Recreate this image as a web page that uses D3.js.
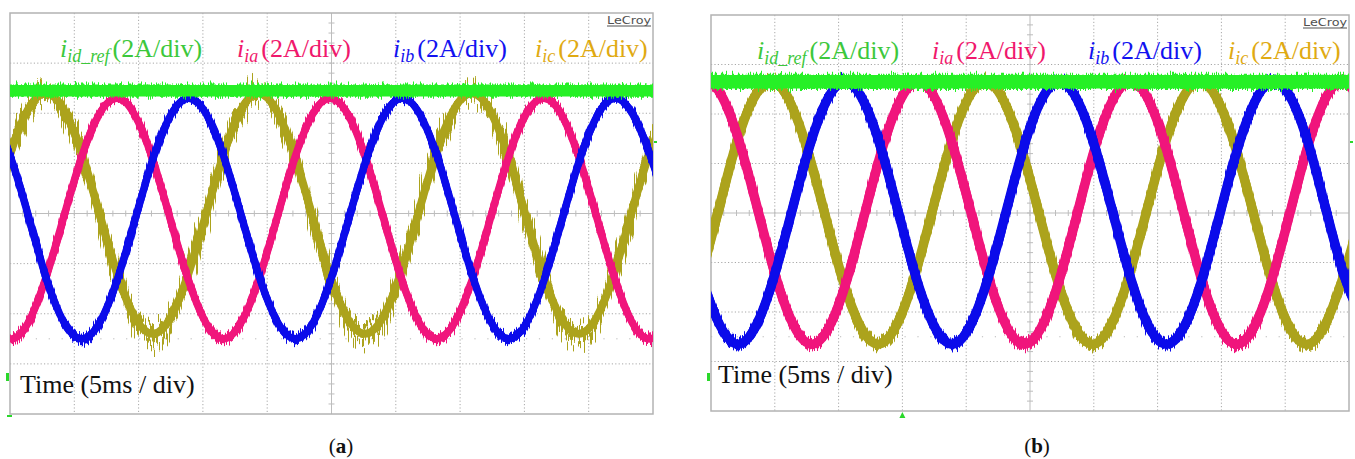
<!DOCTYPE html>
<html>
<head>
<meta charset="utf-8">
<script src="https://cdn.jsdelivr.net/npm/d3@7"></script>
<style>
  body { margin: 0; background: #fff; }
  svg { display: block; }
</style>
</head>
<body>
<svg id="chart" width="1355" height="459"></svg>
<script>
// Scope settings: 10 horizontal divisions of 5 ms, 8 vertical divisions of 2 A
const timeDomain = [0, 50];      // ms
const currentDomain = [-8, 8];   // A
const timeDivs = [5, 10, 15, 20, 25, 30, 35, 40, 45];
const currentDivs = [-6, -4, -2, 0, 2, 4, 6];

// (a) phase currents, [time ms, current A]
const iaA = [[-2.77,-2.6],[0,-5.0],[2.77,-2.6],[5.53,2.2],[8.3,4.6],[11.07,2.2],[13.83,-2.6],[16.6,-5.0],[19.37,-2.6],[22.13,2.2],[24.9,4.6],[27.67,2.2],[30.43,-2.6],[33.2,-5.0],[35.97,-2.6],[38.73,2.2],[41.5,4.6],[44.27,2.2],[47.03,-2.6],[49.8,-5.0],[52.57,-2.6]];
const ibA = [[-2.7,4.6],[0.07,2.2],[2.83,-2.6],[5.6,-5.0],[8.37,-2.6],[11.13,2.2],[13.9,4.6],[16.67,2.2],[19.43,-2.6],[22.2,-5.0],[24.97,-2.6],[27.73,2.2],[30.5,4.6],[33.27,2.2],[36.03,-2.6],[38.8,-5.0],[41.57,-2.6],[44.33,2.2],[47.1,4.6],[49.87,2.2],[52.63,-2.6]];
const icA = [[-5.5,-4.8],[-2.73,-2.4],[0.03,2.4],[2.8,4.8],[5.57,2.4],[8.33,-2.4],[11.1,-4.8],[13.87,-2.4],[16.63,2.4],[19.3,4.8],[22.07,2.4],[24.83,-2.4],[27.6,-4.8],[30.37,-2.4],[33.13,2.4],[35.9,4.8],[38.67,2.4],[41.43,-2.4],[44.2,-4.8],[46.97,-2.4],[49.73,2.4],[52.5,4.8]];
const idRefA = 4.9;

// (b) phase currents, [time ms, current A]
const iaB = [[-3.2,2.65],[-0.43,5.3],[2.35,2.65],[5.12,-2.65],[7.9,-5.3],[10.68,-2.65],[13.45,2.65],[16.23,5.3],[19.0,2.65],[21.78,-2.65],[24.55,-5.3],[27.33,-2.65],[30.1,2.65],[32.88,5.3],[35.65,2.65],[38.43,-2.65],[41.2,-5.3],[43.98,-2.65],[46.75,2.65],[49.53,5.3],[52.3,2.65]];
const ibB = [[-3.5,2.65],[-0.7,-2.65],[2.1,-5.3],[4.9,-2.65],[7.7,2.65],[10.5,5.3],[13.3,2.65],[16.1,-2.65],[18.9,-5.3],[21.7,-2.65],[24.5,2.65],[27.3,5.3],[30.1,2.65],[32.9,-2.65],[35.7,-5.3],[38.5,-2.65],[41.3,2.65],[44.1,5.3],[46.9,2.65],[49.7,-2.65],[52.5,-5.3]];
const icB = [[-3.7,-5.3],[-0.9,-2.65],[1.9,2.65],[4.7,5.3],[7.5,2.65],[10.3,-2.65],[13.1,-5.3],[15.9,-2.65],[18.7,2.65],[21.5,5.3],[24.3,2.65],[27.1,-2.65],[29.9,-5.3],[32.7,-2.65],[35.5,2.65],[38.3,5.3],[41.1,2.65],[43.9,-2.65],[46.7,-5.3],[49.5,-2.65],[52.3,2.65]];
const idRefB = 5.3;

// Legend text
const legendSubs = ["id_ref", "ia", "ib", "ic"];
const legendUnit = "(2A/div)";
const timeLabel = "Time (5ms / div)";
const captions = ["a", "b"];
const brand = "LeCroy";

// Colours
const traceColor = { ref: "#26f026", ia: "#f0157c", ib: "#0b0bea", ic: "#aca31c" };
const textColor = ["#3cc83c", "#f0186c", "#1212f0", "#e0aa12"];

const svg = d3.select("#chart");
const defs = svg.append("defs");

// Oscilloscope noise: vertical-only jitter driven by a high x-frequency turbulence
function jitterFilter(id, scale, seed, fx) {
  const f = defs.append("filter").attr("id", id)
    .attr("filterUnits", "userSpaceOnUse")
    .attr("x", 0).attr("y", 0).attr("width", 1355).attr("height", 459)
    .attr("color-interpolation-filters", "sRGB");
  f.append("feTurbulence").attr("type", "fractalNoise")
    .attr("baseFrequency", `${fx} 0.01`).attr("numOctaves", 2).attr("seed", seed).attr("result", "n");
  f.append("feColorMatrix").attr("in", "n").attr("type", "matrix")
    .attr("values", "0 0 0 0 0.5  0 1.6 0 0 -0.3  0 0 1 0 0  0 0 0 0 1").attr("result", "m");
  f.append("feDisplacementMap").attr("in", "SourceGraphic").attr("in2", "m")
    .attr("scale", scale).attr("xChannelSelector", "R").attr("yChannelSelector", "G");
}
jitterFilter("jitS1", 12, 3, 1.3);
jitterFilter("jitS2", 12, 11, 1.1);
jitterFilter("jitS3", 10, 17, 1.5);
jitterFilter("jitRef", 10, 5, 1.4);
jitterFilter("jitRef2", 10, 23, 1.2);
jitterFilter("jitBig", 50, 7, 1.0);
jitterFilter("jitBig2", 36, 29, 1.3);

const panels = [
  { key: "a", left: 10, right: 653, top: 13, bottom: 414,
    ia: iaA, ib: ibA, ic: icA, ref: idRefA,
    legendX: [60, 237, 393, 535], legendY: 57,
    timeX: 20, timeY: 393, logoX: 607, logoY: 24, captionX: 341,
    width: { ia: 7.5, ib: 7.5, ic: 8, ref: 11.5 },
    jit: { ia: ["jitS1", "jitS3"], ib: ["jitS2", "jitS3"], ic: ["jitBig", "jitBig2"], ref: ["jitRef", "jitRef2"] } },
  { key: "b", left: 711, right: 1349, top: 15, bottom: 411,
    ia: iaB, ib: ibB, ic: icB, ref: idRefB,
    legendX: [757, 932, 1088, 1228], legendY: 59,
    timeX: 718, timeY: 383, logoX: 1303, logoY: 26, captionX: 1037,
    width: { ia: 9.5, ib: 9.5, ic: 9.5, ref: 13.5 },
    jit: { ia: ["jitS1", "jitS3"], ib: ["jitS2", "jitS3"], ic: ["jitS1", "jitS2"], ref: ["jitRef", "jitRef2"] } }
];

panels.forEach((p, pi) => {
  const x = d3.scaleLinear().domain(timeDomain).range([p.left, p.right]);
  const y = d3.scaleLinear().domain(currentDomain).range([p.bottom, p.top]);
  const g = svg.append("g");

  defs.append("clipPath").attr("id", "clip" + p.key)
    .append("rect").attr("x", p.left).attr("y", p.top)
    .attr("width", p.right - p.left).attr("height", p.bottom - p.top);

  // dotted graticule
  const grid = g.append("g").attr("stroke", "#a8a8a8").attr("stroke-width", 1)
    .attr("stroke-dasharray", "1.2,2.2");
  grid.selectAll("line.v").data(timeDivs.filter(t => t !== 25)).join("line")
    .attr("x1", d => x(d)).attr("x2", d => x(d)).attr("y1", p.top).attr("y2", p.bottom);
  grid.selectAll("line.h").data(currentDivs.filter(v => v !== 0)).join("line")
    .attr("class", "h")
    .attr("x1", p.left).attr("x2", p.right).attr("y1", d => y(d)).attr("y2", d => y(d));
  // sparse marker row
  g.append("line").attr("x1", p.left).attr("x2", p.right).attr("y1", y(-5)).attr("y2", y(-5))
    .attr("stroke", "#b8b8b8").attr("stroke-dasharray", "1.2,11.7");

  // centre axes with minor ticks
  const axes = g.append("g").attr("stroke", "#bdbdbd").attr("stroke-width", 1);
  axes.append("line").attr("x1", p.left).attr("x2", p.right).attr("y1", y(0)).attr("y2", y(0));
  axes.append("line").attr("x1", x(25)).attr("x2", x(25)).attr("y1", p.top).attr("y2", p.bottom);
  axes.selectAll("line.tx").data(d3.range(1, 50)).join("line").attr("class", "tx")
    .attr("x1", d => x(d)).attr("x2", d => x(d)).attr("y1", y(0) - 3).attr("y2", y(0) + 3);
  axes.selectAll("line.ty").data(d3.range(-7.6, 8, 0.4)).join("line").attr("class", "ty")
    .attr("x1", x(25) - 3).attr("x2", x(25) + 3).attr("y1", d => y(d)).attr("y2", d => y(d));

  // frame
  g.append("rect").attr("x", p.left).attr("y", p.top)
    .attr("width", p.right - p.left).attr("height", p.bottom - p.top)
    .attr("fill", "none").attr("stroke", "#b3b3b3").attr("stroke-width", 1.5);

  // traces: solid core plus two noisy layers
  const line = d3.line().x(d => x(d[0])).y(d => y(d[1])).curve(d3.curveNatural);
  const traces = g.append("g").attr("clip-path", `url(#clip${p.key})`);
  const order = ["ic", "ia", "ib", "ref"];
  order.forEach(k => {
    const data = k === "ref" ? [[timeDomain[0] - 1, p.ref], [timeDomain[1] + 1, p.ref]] : p[k];
    const w = p.width[k];
    const d = line(data);
    traces.append("path").attr("d", d).attr("fill", "none")
      .attr("stroke", traceColor[k]).attr("stroke-width", w);
    p.jit[k].forEach(fid => {
      traces.append("path").attr("d", d).attr("fill", "none")
        .attr("stroke", traceColor[k]).attr("stroke-width", w * 0.9)
        .attr("filter", `url(#${fid})`);
    });
  });

  // legend
  legendSubs.forEach((sub, i) => {
    const t = g.append("text").attr("x", p.legendX[i]).attr("y", p.legendY)
      .attr("font-family", "'Liberation Serif', 'Times New Roman', serif")
      .attr("font-size", 26).attr("fill", textColor[i]);
    t.append("tspan").attr("font-style", "italic").text("i");
    t.append("tspan").attr("font-style", "italic").attr("font-size", 18).attr("dy", 5).text(sub);
    t.append("tspan").attr("dy", -5).attr("dx", 3).text(legendUnit);
  });

  // time base label
  g.append("text").attr("x", p.timeX).attr("y", p.timeY)
    .attr("font-family", "'Liberation Serif', 'Times New Roman', serif")
    .attr("font-size", 26).attr("fill", "#111").text(timeLabel);

  // brand mark
  g.append("text").attr("x", p.logoX).attr("y", p.logoY)
    .attr("font-family", "'DejaVu Sans', sans-serif").attr("font-size", 11)
    .attr("textLength", 44).attr("lengthAdjust", "spacingAndGlyphs")
    .attr("fill", "#505050").text(brand);
  g.append("line").attr("x1", p.logoX).attr("x2", p.logoX + 44)
    .attr("y1", p.logoY + 2).attr("y2", p.logoY + 2).attr("stroke", "#505050").attr("stroke-width", 1);

  // channel markers
  const mk = g.append("g").attr("fill", "#2ad82a");
  mk.append("rect").attr("x", p.left - 4).attr("y", 373).attr("width", 3).attr("height", 8);
  mk.append("rect").attr("x", p.right + 1).attr("y", 141).attr("width", 3).attr("height", 2);
  if (p.key === "a") {
    mk.append("rect").attr("x", p.left - 3).attr("y", 415).attr("width", 5).attr("height", 2);
  } else {
    mk.append("path").attr("d", `M${x(15) - 3},${p.bottom + 7}L${x(15)},${p.bottom + 1}L${x(15) + 3},${p.bottom + 7}Z`);
  }

  // caption
  const c = svg.append("text").attr("x", p.captionX).attr("y", 453).attr("text-anchor", "middle")
    .attr("font-family", "'Liberation Serif', 'Times New Roman', serif").attr("font-size", 21).attr("fill", "#111");
  c.append("tspan").text("(");
  c.append("tspan").attr("font-weight", "bold").text(captions[pi]);
  c.append("tspan").text(")");
});
</script>
</body>
</html>
